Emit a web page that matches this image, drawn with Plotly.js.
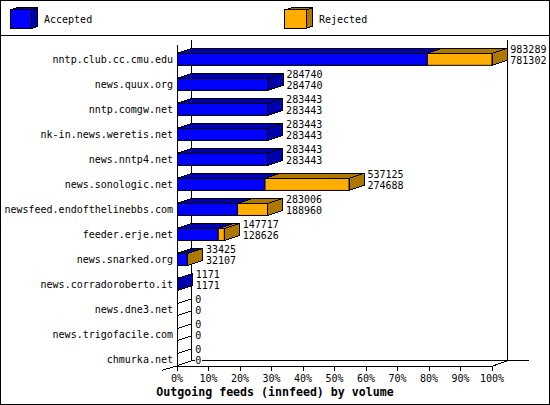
<!DOCTYPE html>
<html>
<head>
<meta charset="utf-8">
<script src="https://cdn.plot.ly/plotly-3.0.1.min.js"></script>
<style>
html,body{margin:0;padding:0;background:#fff;overflow:hidden}
.scatterlayer path,.shapelayer path{shape-rendering:crispEdges}
</style>
</head>
<body>
<div id="chart" style="width:550px;height:405px"></div>
<script>
const feeds = ["nntp.club.cc.cmu.edu","news.quux.org","nntp.comgw.net","nk-in.news.weretis.net","news.nntp4.net","news.sonologic.net","newsfeed.endofthelinebbs.com","feeder.erje.net","news.snarked.org","news.corradoroberto.it","news.dne3.net","news.trigofacile.com","chmurka.net"];
const rejected = [983289,284740,283443,283443,283443,537125,283006,147717,33425,1171,0,0,0];
const accepted = [781302,284740,283443,283443,283443,274688,188960,128626,32107,1171,0,0,0];
const percentTicks = [0,10,20,30,40,50,60,70,80,90,100];

const BLUE="#0000FF",BLUE_DK="#0000AD",ORG="#FFAD00",ORG_DK="#AD7800",FONT="'DejaVu Sans Mono', monospace";
const L=177,R=549,T=40,B=365.7;
const scaleMax=Math.max(...rejected);
const pct=v=>v/scaleMax*100;
const DX=15/315*100, DY=5/25, HALF=6/25;
const idx=feeds.map((_,i)=>i);
const xp=v=>(v-L)/(R-L), yp=v=>1-(v-T)/(B-T);

function poly(values,kind,keep){
  const xs=[],ys=[];
  values.forEach((v,i)=>{
    if(!keep(v,i))return;
    const p=pct(v),t=i-HALF,b=i+HALF;
    if(kind==="top"){xs.push(0,DX,p+DX,p,0,null);ys.push(t,t-DY,t-DY,t,t,null);}
    else{xs.push(p,p+DX,p+DX,p,p,null);ys.push(t,t-DY,b-DY,b,t,null);}
  });
  return {x:xs,y:ys};
}
function bar(values,color){
  return {type:"bar",orientation:"h",x:values.map(pct),y:idx,width:0.48,
    marker:{color:color,line:{color:"#000",width:1}},hoverinfo:"skip"};
}
function face(p,color){
  return {type:"scatter",mode:"lines",x:p.x,y:p.y,fill:"toself",fillcolor:color,
    line:{color:"#000",width:1},hoverinfo:"skip"};
}
const nz=v=>v>0;
const zeroX=[],zeroY=[];
rejected.forEach((v,i)=>{ if(v===0){ zeroX.push(0,DX,null,0,DX,null); zeroY.push(i-HALF,i-HALF-DY,null,i+HALF,i+HALF-DY,null);} });
function labels(values,off){
  return {type:"scatter",mode:"text",x:rejected.map((v,i)=>pct(Math.max(v,accepted[i]))+DX+1.05),
    y:idx.map(i=>i+off),text:values.map(String),textposition:"middle right",cliponaxis:false,
    textfont:{family:FONT,size:10,color:"#000"},hoverinfo:"skip"};
}
const traces=[
  bar(rejected,ORG),
  face(poly(rejected,"top",nz),ORG_DK),
  face(poly(rejected,"side",(v,i)=>v>0&&v>accepted[i]),ORG_DK),
  bar(accepted,BLUE),
  face(poly(accepted,"top",nz),BLUE_DK),
  face(poly(accepted,"side",(v,i)=>v>0&&v>=rejected[i]),BLUE_DK),
  {type:"scatter",mode:"lines",x:zeroX,y:zeroY,line:{color:"#000",width:1},hoverinfo:"skip"},
  labels(rejected,-0.37),
  labels(accepted,0.07)
];
function seg(x0,y0,x1,y1,layer){
  return {type:"line",xref:"paper",yref:"paper",x0:xp(x0),y0:yp(y0),x1:xp(x1),y1:yp(y1),
    line:{color:"#000",width:1},layer:layer||"below"};
}
function cube(x,front,side){
  const P=(a,b)=>xp(a).toFixed(5)+","+yp(b).toFixed(5);
  const x0=x,x1=x+21.5,x2=x+27.5,y0=10,y1=28.3,yb=8;
  const sh=(d,c)=>({type:"path",xref:"paper",yref:"paper",path:d,fillcolor:c,line:{color:"#000",width:1},layer:"above"});
  return [
    sh("M"+P(x0,y0)+"L"+P(x0+6,yb)+"L"+P(x2,yb)+"L"+P(x1,y0)+"Z",side),
    sh("M"+P(x1,y0)+"L"+P(x2,yb)+"L"+P(x2,y1-2)+"L"+P(x1,y1)+"Z",side),
    sh("M"+P(x0,y0)+"L"+P(x1,y0)+"L"+P(x1,y1)+"L"+P(x0,y1)+"Z",front)
  ];
}
const shapes=[
  seg(177,45,177,365.7), seg(191.7,40,191.7,360.7), seg(507,40,507,360.7),
  seg(177,365.7,492.7,365.7), seg(161.7,370,177,365.7), seg(492.7,365.7,507,360.7),
  seg(191.7,360.7,195,360.7), seg(202,360.7,529,360.7),
  seg(0.5,0.5,549.5,0.5,"above"), seg(0.5,404.5,549.5,404.5,"above"),
  seg(0.5,0.5,0.5,404.5,"above"), seg(549.5,0.5,549.5,404.5,"above"),
  seg(0,35.5,550,35.5,"above"),
  ...cube(10.3,BLUE,BLUE_DK), ...cube(285,ORG,ORG_DK)
];
function legendText(t,x){
  return {text:t,xref:"paper",yref:"paper",x:xp(x),y:yp(20),xanchor:"left",yanchor:"middle",
    showarrow:false,xshift:-2.5,font:{family:FONT,size:10,color:"#000"}};
}
const layout={
  width:550,height:405,showlegend:false,barmode:"overlay",
  margin:{l:L,r:550-R,t:T,b:405-B,pad:0},
  paper_bgcolor:"#fff",plot_bgcolor:"rgba(0,0,0,0)",
  font:{family:FONT,size:10,color:"#000"},
  title:{text:"<b>Outgoing feeds (innfeed) by volume</b>",xref:"container",yref:"container",x:0.5,xanchor:"center",
    y:1-392/405,yanchor:"middle",font:{family:FONT,size:11.6,color:"#000"}},
  xaxis:{range:[0,(R-L)/315*100],tickmode:"array",tickvals:percentTicks,ticktext:percentTicks.map(v=>v+"%"),
    ticks:"outside",ticklen:4,tickcolor:"#000",tickwidth:1,showgrid:false,zeroline:false,showline:false,
    tickfont:{family:FONT,size:10,color:"#000"},tickangle:0,ticklabelstandoff:-1},
  yaxis:{range:[(B-59.3)/25,(T-59.3)/25],tickmode:"array",tickvals:idx,ticktext:feeds,
    ticks:"",showgrid:false,zeroline:false,showline:false,ticklabelstandoff:3,
    tickfont:{family:FONT,size:10,color:"#000"}},
  shapes:shapes,
  annotations:[legendText("Accepted",44.7),legendText("Rejected",319.7)]
};
Plotly.newPlot("chart",traces,layout,{displayModeBar:false,staticPlot:true});
</script>
</body>
</html>
